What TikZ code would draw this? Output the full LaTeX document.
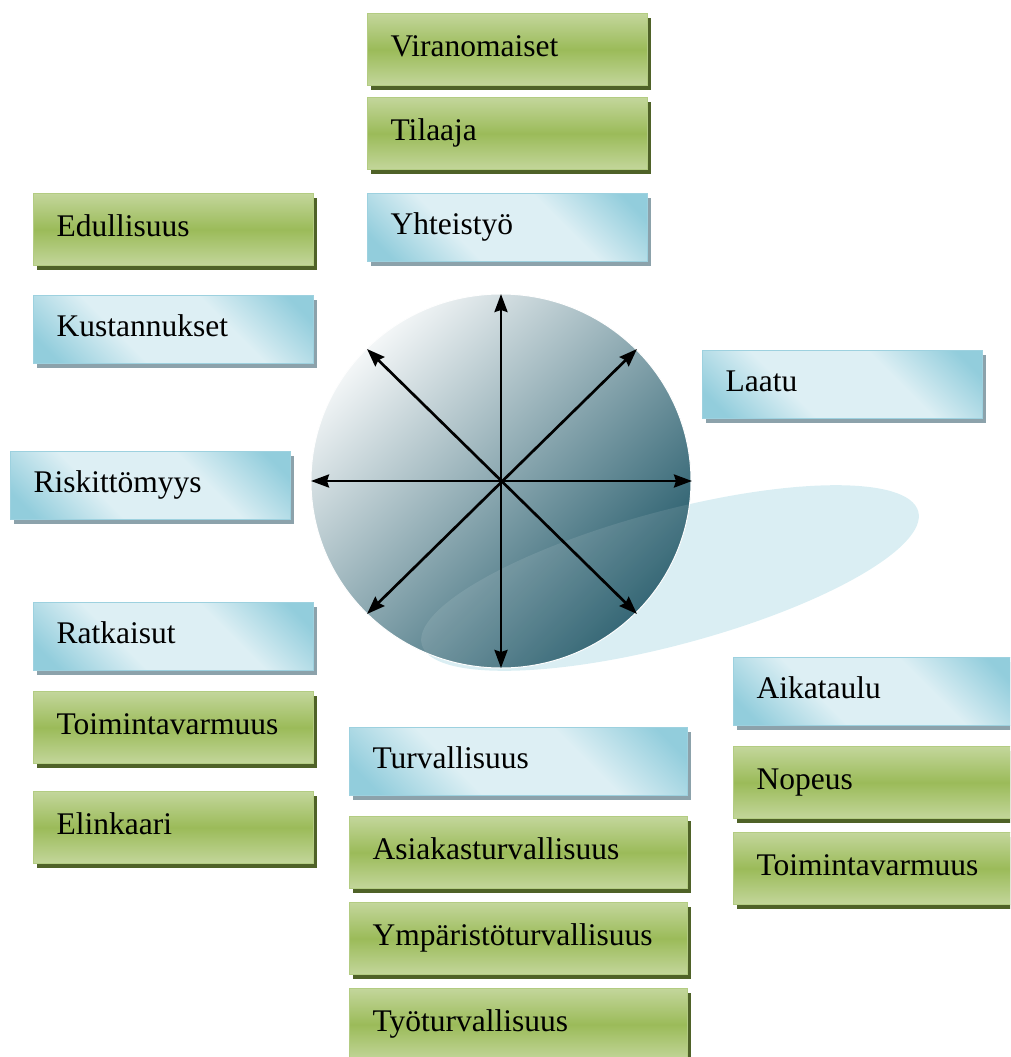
\documentclass[tikz,border=0pt]{standalone}
\usepackage{fontspec}
\setmainfont{Liberation Serif}
\usetikzlibrary{arrows.meta,shadows}
\definecolor{gLight}{HTML}{C3D69B}
\definecolor{gMid}{HTML}{9BBB59}
\definecolor{gEdge}{HTML}{B3CC82}
\definecolor{gShadow}{HTML}{4F6228}
\definecolor{bBlue}{HTML}{92CDDC}
\definecolor{bLight}{HTML}{DDEFF4}
\definecolor{bEdge}{HTML}{9DD1DF}
\definecolor{bShadow}{HTML}{8CA2AB}
\definecolor{cLight}{HTML}{F3F6F7}
\definecolor{cDark}{HTML}{215868}
\definecolor{swoosh}{HTML}{DAEEF3}
\pgfdeclareverticalshading{blueband}{100bp}{color(0bp)=(bBlue); color(20bp)=(bBlue); color(38bp)=(bLight); color(62bp)=(bLight); color(80bp)=(bBlue); color(100bp)=(bBlue)}
\pgfdeclareverticalshading{greenband}{100bp}{color(0bp)=(gLight); color(25bp)=(gLight); color(50bp)=(gMid); color(75bp)=(gLight); color(100bp)=(gLight)}
\tikzset{
  basebox/.style={rectangle, anchor=north west, inner ysep=0pt, inner xsep=23pt,
    align=left, text height=21pt, text depth=7pt, line width=1.2pt,
    font=\fontsize{31.5}{36}\selectfont, text width=#1},
  gbox/.style={basebox=#1, minimum height=72pt, draw=gEdge,
    shade, shading=greenband,
    general shadow={fill=gShadow, shadow xshift=3.5pt, shadow yshift=-4.5pt}},
  bbox/.style={basebox=#1, minimum height=68pt, draw=bEdge,
    shade, shading=blueband, shading angle=-45,
    general shadow={fill=bShadow, shadow xshift=3.5pt, shadow yshift=-4.5pt}},
  arr/.style={line width=2.7pt, {Stealth[length=18pt,width=13pt,inset=2pt]}-{Stealth[length=18pt,width=13pt,inset=2pt]}}
}
\begin{document}
\begin{tikzpicture}[x=1pt,y=-1pt]
\useasboundingbox (0,0) rectangle (1010,1057);
\clip (0,0) rectangle (1010,1057);
% swoosh
\fill[swoosh, rotate around={15:(670,578)}] (670,578) ellipse [x radius=257, y radius=67];
% sphere
\coordinate (c) at (501,481);
\shade[top color=cLight, bottom color=cDark, shading angle=45, draw=white!90!cLight, line width=1pt]
  (c) ellipse [x radius=190, y radius=187];
\begin{scope}
\clip (c) ellipse [x radius=190, y radius=187];
\fill[white, opacity=0.10, rotate around={15:(670,578)}] (670,578) ellipse [x radius=257, y radius=67];
\end{scope}
% arrows
\coordinate (tn) at (501,294);
\coordinate (ts) at (501,668);
\coordinate (tw) at (311,481);
\coordinate (te) at (692,481);
\coordinate (tnw) at (367,349);
\coordinate (tse) at (637,614);
\coordinate (tne) at (637,349);
\coordinate (tsw) at (367,614);
\draw[arr] (tn) -- (ts);
\draw[arr] (tw) -- (te);
\draw[arr] (tnw) -- (tse);
\draw[arr] (tne) -- (tsw);
% boxes
\node[gbox=234pt] (vir) at (367,13) {Viranomaiset};
\node[gbox=234pt] (til) at (367,97) {Tilaaja};
\node[bbox=234pt] (yht) at (367,193) {Yhteistyö};
\node[gbox=234pt] (edu) at (33,193) {Edullisuus};
\node[bbox=234pt] (kus) at (33,295) {Kustannukset};
\node[bbox=234pt] (laa) at (702,350) {Laatu};
\node[bbox=234pt] (ris) at (10,451) {Riskittömyys};
\node[bbox=234pt] (rat) at (33,602) {Ratkaisut};
\node[gbox=234pt] (toia) at (33,691) {Toimintavarmuus};
\node[gbox=234pt] (eli) at (33,791) {Elinkaari};
\node[bbox=292pt] (tur) at (349,727) {Turvallisuus};
\node[gbox=292pt] (asi) at (349,816) {Asiakasturvallisuus};
\node[gbox=292pt] (ymp) at (349,902) {Ympäristöturvallisuus};
\node[gbox=292pt] (tyo) at (349,988) {Työturvallisuus};
\node[bbox=234pt] (aik) at (733,657) {Aikataulu};
\node[gbox=234pt] (nop) at (733,746) {Nopeus};
\node[gbox=234pt] (toib) at (733,832) {Toimintavarmuus};
\end{tikzpicture}
\end{document}
